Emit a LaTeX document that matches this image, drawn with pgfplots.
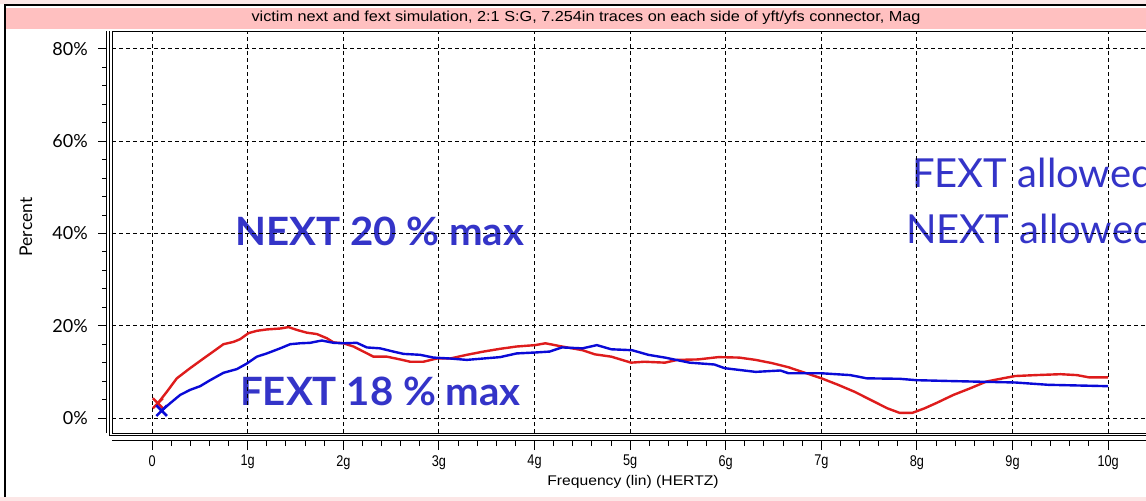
\documentclass[border=0pt]{standalone}
\usepackage{pgfplots}
\pgfplotsset{compat=1.18}
\usepackage{fontspec}
\newfontfamily\lato{Lato}
\newfontfamily\latow[FakeStretch=1.03]{Lato}
\newfontfamily\scr[FakeStretch=1.12]{Liberation Sans}
\newfontfamily\scrn[FakeStretch=0.82]{Liberation Sans}
\definecolor{annot}{RGB}{52,52,200}
\definecolor{cblue}{RGB}{10,10,215}
\definecolor{cred}{RGB}{222,28,28}
\definecolor{pinkbar}{RGB}{255,192,192}
\definecolor{lpink}{RGB}{252,230,230}
\begin{document}
\begin{tikzpicture}
\path[use as bounding box] (0,0) rectangle (1146bp,501bp);
\clip (0,0) rectangle (1146bp,501bp);
\fill[white] (0,0) rectangle (1146bp,501bp);
\fill[lpink] (0,497bp) rectangle (1146bp,501bp);
\fill[pinkbar] (6bp,472bp) rectangle (1146bp,493bp);
\fill[lpink] (0,0) rectangle (1146bp,4bp);
\draw[line width=2.5bp] (5bp,4bp) -- (5bp,496bp) -- (1146bp,496bp);
\node[font=\scr\fontsize{14.5bp}{16bp}\selectfont, inner sep=0] at (586bp,483bp) {victim next and fext simulation, 2:1 S:G, 7.254in traces on each side of yft/yfs connector, Mag};
% annotations (behind grid)
\node[font=\latow\bfseries\fontsize{39bp}{42bp}\selectfont, text=annot, anchor=west, inner sep=0] at (235bp,270bp) {NEXT 20 \% max};
\node[font=\latow\bfseries\fontsize{39bp}{42bp}\selectfont, text=annot, anchor=west, inner sep=0] at (240bp,109.5bp) {FEXT 18 \% max};
\node[font=\lato\fontsize{40bp}{44bp}\selectfont, text=annot, anchor=west, inner sep=0] at (912bp,328.5bp) {FEXT allowed};
\node[font=\lato\fontsize{40bp}{44bp}\selectfont, text=annot, anchor=west, inner sep=0] at (906bp,272.5bp) {NEXT allowed};
% main axis
\begin{axis}[at={(112bp,68bp)}, anchor=south west, scale only axis,
  width=1068bp, height=402bp,
  xmin=-0.42, xmax=10.752, ymin=-3.25, ymax=83.9,
  axis line style={draw=none},
  xtick={0,1,...,10}, ytick={0,20,40,60,80},
  xticklabels={}, yticklabels={},
  tick style={draw=none}, major tick length=0pt,
  grid=major,
  major grid style={black, line width=1bp, dash pattern=on 4bp off 3bp},
  clip mode=individual]
\addplot[cred, line width=2.4bp, mark=x, mark indices={1}, mark size=7bp, mark options={line width=2.4bp}] coordinates {
(0.06,3.2) (0.154,5.7) (0.258,8.6) (0.397,10.8) (0.537,12.9) (0.659,14.7) (0.746,16.0) (0.851,16.5) (0.921,17.1) (1.008,18.4) (1.095,18.9) (1.2,19.2) (1.339,19.4) (1.426,19.7) (1.513,19.1) (1.618,18.5) (1.723,18.2) (1.827,17.3) (1.897,16.4) (2.0,16.2) (2.106,15.5) (2.21,14.4) (2.315,13.3) (2.455,13.3) (2.594,12.7) (2.699,12.2) (2.838,12.2) (2.978,12.9) (3.117,12.9) (3.292,13.7) (3.466,14.4) (3.64,15.0) (3.813,15.5) (4.006,15.8) (4.114,16.2) (4.287,15.5) (4.502,14.7) (4.632,13.8) (4.803,13.3) (5.01,12.0) (5.149,12.2) (5.364,12.0) (5.494,12.6) (5.709,12.7) (5.924,13.2) (6.14,13.1) (6.313,12.6) (6.484,11.9) (6.657,11.0) (6.829,9.8) (7.002,8.6) (7.175,7.2) (7.346,5.7) (7.519,3.9) (7.691,2.1) (7.821,1.1) (7.95,1.1) (8.08,2.1) (8.209,3.3) (8.381,5.0) (8.553,6.4) (8.726,7.9) (8.898,8.6) (9.027,9.1) (9.243,9.3) (9.502,9.5) (9.674,9.3) (9.803,8.8) (10.0,8.8)};
\addplot[cblue, line width=2.4bp, mark=x, mark indices={1}, mark size=7.5bp, mark options={line width=2.6bp}] coordinates {
(0.1,1.6) (0.188,3.2) (0.293,5.0) (0.397,6.1) (0.502,6.9) (0.607,8.2) (0.746,9.8) (0.886,10.6) (0.99,11.8) (1.095,13.3) (1.2,14.0) (1.339,15.1) (1.444,16.0) (1.548,16.2) (1.653,16.3) (1.775,16.8) (1.897,16.3) (2.0,16.2) (2.141,16.3) (2.246,15.3) (2.385,15.1) (2.524,14.4) (2.629,13.9) (2.803,13.7) (2.943,13.1) (3.117,12.9) (3.292,12.6) (3.466,12.9) (3.64,13.2) (3.813,14.0) (4.006,14.2) (4.157,14.4) (4.287,15.3) (4.502,15.1) (4.652,15.8) (4.803,14.9) (5.02,14.7) (5.19,13.7) (5.364,13.1) (5.622,12.0) (5.881,11.6) (5.989,10.8) (6.313,10.0) (6.571,10.3) (6.657,9.7) (7.002,9.7) (7.303,9.3) (7.476,8.6) (7.821,8.5) (7.994,8.2) (8.381,8.0) (9.027,7.7) (9.372,7.2) (10.0,6.9)};
\draw[line width=1bp] (rel axis cs:0,0) -- (rel axis cs:0,1) -- (rel axis cs:1,1);
\draw[line width=1bp] (rel axis cs:0,0) -- (rel axis cs:1,0);
\draw[line width=1bp] ([xshift=-2.5bp]rel axis cs:0,1) -- ([xshift=-2.5bp,yshift=-2.5bp]rel axis cs:0,0) -- ([yshift=-2.5bp]rel axis cs:1,0);
\end{axis}
% y tick axis
\begin{axis}[at={(106bp,68bp)}, anchor=south west, scale only axis,
  width=4bp, height=402bp, xmin=0, xmax=1, ymin=-3.25, ymax=83.9,
  axis line style={draw=none}, xtick=\empty,
  ytick={0,20,40,60,80}, minor y tick num=4, ytick pos=left,
  tick align=outside, major tick length=8bp, minor tick length=4bp,
  tick style={black, line width=1bp},
  yticklabels={0\%,20\%,40\%,60\%,80\%},
  yticklabel style={font=\lato\fontsize{18bp}{20bp}\selectfont, anchor=east, inner sep=0pt, xshift=-10bp},
  clip=false]
\draw[line width=1bp] (rel axis cs:0,0) -- (rel axis cs:0,1);
\end{axis}
% x tick axis
\begin{axis}[at={(112bp,61bp)}, anchor=south west, scale only axis,
  width=1068bp, height=8bp, xmin=-0.42, xmax=10.752, ymin=0, ymax=1,
  axis line style={draw=none}, ytick=\empty,
  xtick={0,1,...,10}, minor x tick num=4, xtick pos=left,
  tick align=outside, major tick length=10bp, minor tick length=6bp,
  tick style={black, line width=1bp},
  xticklabels={0,1g,2g,3g,4g,5g,6g,7g,8g,9g,10g},
  xticklabel style={font=\scrn\fontsize{15.5bp}{17bp}\selectfont, anchor=north, inner sep=0pt, yshift=-5bp},
  clip=false]
\draw[line width=1bp] (rel axis cs:0,0) -- (rel axis cs:1,0);
\end{axis}
\node[font=\scr\fontsize{14bp}{16bp}\selectfont, inner sep=0] at (633bp,19bp) {Frequency (lin) (HERTZ)};
\node[font=\lato\fontsize{17.5bp}{19bp}\selectfont, rotate=90, inner sep=0] at (26bp,274bp) {Percent};
\end{tikzpicture}
\end{document}
